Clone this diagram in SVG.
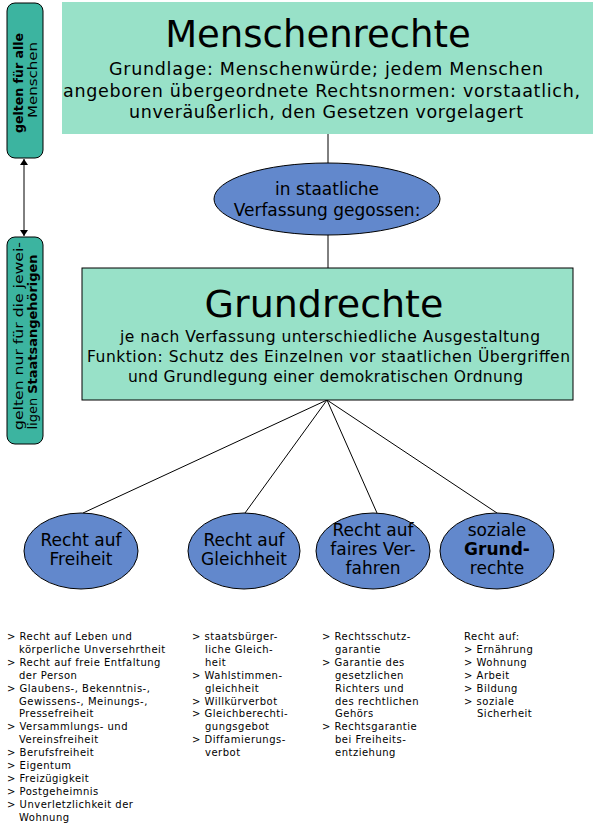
<svg xmlns="http://www.w3.org/2000/svg" width="593" height="830" viewBox="0 0 593 830">
<defs>
<style>
text{font-family:"DejaVu Sans","Verdana",sans-serif;fill:#000}
.box{fill:#98e1c8}
.pill{fill:#3cb4a0;stroke:#000;stroke-width:1}
.ell{fill:#6288cc;stroke:#000;stroke-width:1}
.con{stroke:#000;stroke-width:1;fill:none}
.c{text-anchor:middle}
.et{font-size:17px;text-anchor:middle}
.ls{font-size:10px;letter-spacing:0.5px}
.b{font-weight:bold}
</style>
<marker id="ah" markerWidth="6" markerHeight="8" refX="6" refY="4" orient="auto-start-reverse" markerUnits="userSpaceOnUse">
<path d="M0,0 L6,4 L0,8 Z" fill="#000"/>
</marker>
</defs>
<rect width="593" height="830" fill="#fff"/>
<g id="connectors">
<line class="con" x1="24" y1="159" x2="24" y2="236" marker-start="url(#ah)" marker-end="url(#ah)"/>
<line class="con" x1="328" y1="134" x2="328" y2="163"/>
<line class="con" x1="328" y1="235" x2="328" y2="268"/>
<line class="con" x1="327" y1="400" x2="83" y2="513"/>
<line class="con" x1="327" y1="400" x2="245" y2="513"/>
<line class="con" x1="327" y1="400" x2="377" y2="513"/>
<line class="con" x1="327" y1="400" x2="497" y2="513"/>
</g>
<g id="pill-alle">
<rect class="pill" x="7" y="3" width="36" height="155" rx="8" ry="8"/>
<text transform="translate(23,83) rotate(-90)" class="c b" font-size="13" textLength="100" lengthAdjust="spacingAndGlyphs">gelten für alle</text>
<text transform="translate(37,80) rotate(-90)" class="c" font-size="13" textLength="76" lengthAdjust="spacingAndGlyphs">Menschen</text>
</g>
<g id="pill-staat">
<rect class="pill" x="7" y="237" width="36" height="207" rx="8" ry="8"/>
<text transform="translate(23,336) rotate(-90)" class="c" font-size="13" textLength="188" lengthAdjust="spacingAndGlyphs">gelten nur für die jewei-</text>
<text transform="translate(37,342) rotate(-90)" class="c" font-size="13" textLength="175" lengthAdjust="spacingAndGlyphs">ligen <tspan class="b">Staatsangehörigen</tspan></text>
</g>
<g id="menschenrechte">
<rect class="box" x="62" y="2" width="531" height="132"/>
<text x="318" y="47" class="c" font-size="37">Menschenrechte</text>
<text x="326" y="75" class="c" font-size="17.5" textLength="434" lengthAdjust="spacing">Grundlage: Menschenwürde; jedem Menschen</text>
<text x="321.5" y="97" class="c" font-size="17.5" textLength="517" lengthAdjust="spacing">angeboren übergeordnete Rechtsnormen: vorstaatlich,</text>
<text x="326" y="118" class="c" font-size="17.5" textLength="394" lengthAdjust="spacing">unveräußerlich, den Gesetzen vorgelagert</text>
</g>
<g id="verfassung">
<ellipse class="ell" cx="327" cy="199" rx="113" ry="36"/>
<text x="327" y="195" class="et">in staatliche</text>
<text x="327" y="216" class="et">Verfassung gegossen:</text>
</g>
<g id="grundrechte">
<rect class="box" x="82" y="268" width="491" height="132" stroke="#000" stroke-width="1"/>
<text x="324" y="317" class="c" font-size="38">Grundrechte</text>
<text x="330" y="342" class="c" font-size="15.5" textLength="420" lengthAdjust="spacing">je nach Verfassung unterschiedliche Ausgestaltung</text>
<text x="328.5" y="362" class="c" font-size="15.5" textLength="483" lengthAdjust="spacing">Funktion: Schutz des Einzelnen vor staatlichen Übergriffen</text>
<text x="325.5" y="382" class="c" font-size="15.5" textLength="395" lengthAdjust="spacing">und Grundlegung einer demokratischen Ordnung</text>
</g>
<g id="freiheit">
<ellipse class="ell" cx="81" cy="551" rx="57" ry="38"/>
<text x="81" y="546" class="et">Recht auf</text>
<text x="81" y="565" class="et">Freiheit</text>
</g>
<g id="gleichheit">
<ellipse class="ell" cx="244" cy="551" rx="56" ry="38"/>
<text x="244" y="546" class="et">Recht auf</text>
<text x="244" y="565" class="et">Gleichheit</text>
</g>
<g id="verfahren">
<ellipse class="ell" cx="373" cy="551" rx="57" ry="38"/>
<text x="373" y="536" class="et">Recht auf</text>
<text x="373" y="555" class="et">faires Ver-</text>
<text x="373" y="574" class="et">fahren</text>
</g>
<g id="sozial">
<ellipse class="ell" cx="497" cy="551" rx="57" ry="38"/>
<text x="497" y="536" class="et">soziale</text>
<text x="497" y="555" class="et b">Grund-</text>
<text x="497" y="574" class="et">rechte</text>
</g>
<g id="list-freiheit">
<text class="ls" x="7" y="640">&gt; Recht auf Leben und</text>
<text class="ls" x="19" y="652.9">körperliche Unversehrtheit</text>
<text class="ls" x="7" y="665.8">&gt; Recht auf freie Entfaltung</text>
<text class="ls" x="19" y="678.7">der Person</text>
<text class="ls" x="7" y="691.6">&gt; Glaubens-, Bekenntnis-,</text>
<text class="ls" x="19" y="704.5">Gewissens-, Meinungs-,</text>
<text class="ls" x="19" y="717.4">Pressefreiheit</text>
<text class="ls" x="7" y="730.3">&gt; Versammlungs- und</text>
<text class="ls" x="19" y="743.2">Vereinsfreiheit</text>
<text class="ls" x="7" y="756.1">&gt; Berufsfreiheit</text>
<text class="ls" x="7" y="769">&gt; Eigentum</text>
<text class="ls" x="7" y="781.9">&gt; Freizügigkeit</text>
<text class="ls" x="7" y="794.8">&gt; Postgeheimnis</text>
<text class="ls" x="7" y="807.7">&gt; Unverletzlichkeit der</text>
<text class="ls" x="19" y="820.6">Wohnung</text>
</g>
<g id="list-gleichheit">
<text class="ls" x="192" y="640">&gt; staatsbürger-</text>
<text class="ls" x="205" y="652.9">liche Gleich-</text>
<text class="ls" x="205" y="665.8">heit</text>
<text class="ls" x="192" y="678.7">&gt; Wahlstimmen-</text>
<text class="ls" x="205" y="691.6">gleichheit</text>
<text class="ls" x="192" y="704.5">&gt; Willkürverbot</text>
<text class="ls" x="192" y="717.4">&gt; Gleichberechti-</text>
<text class="ls" x="205" y="730.3">gungsgebot</text>
<text class="ls" x="192" y="743.2">&gt; Diffamierungs-</text>
<text class="ls" x="205" y="756.1">verbot</text>
</g>
<g id="list-verfahren">
<text class="ls" x="322" y="640">&gt; Rechtsschutz-</text>
<text class="ls" x="335" y="652.9">garantie</text>
<text class="ls" x="322" y="665.8">&gt; Garantie des</text>
<text class="ls" x="335" y="678.7">gesetzlichen</text>
<text class="ls" x="335" y="691.6">Richters und</text>
<text class="ls" x="335" y="704.5">des rechtlichen</text>
<text class="ls" x="335" y="717.4">Gehörs</text>
<text class="ls" x="322" y="730.3">&gt; Rechtsgarantie</text>
<text class="ls" x="335" y="743.2">bei Freiheits-</text>
<text class="ls" x="335" y="756.1">entziehung</text>
</g>
<g id="list-sozial">
<text class="ls" x="464" y="640">Recht auf:</text>
<text class="ls" x="464" y="652.9">&gt; Ernährung</text>
<text class="ls" x="464" y="665.8">&gt; Wohnung</text>
<text class="ls" x="464" y="678.7">&gt; Arbeit</text>
<text class="ls" x="464" y="691.6">&gt; Bildung</text>
<text class="ls" x="464" y="704.5">&gt; soziale</text>
<text class="ls" x="477" y="717.4">Sicherheit</text>
</g>
</svg>
